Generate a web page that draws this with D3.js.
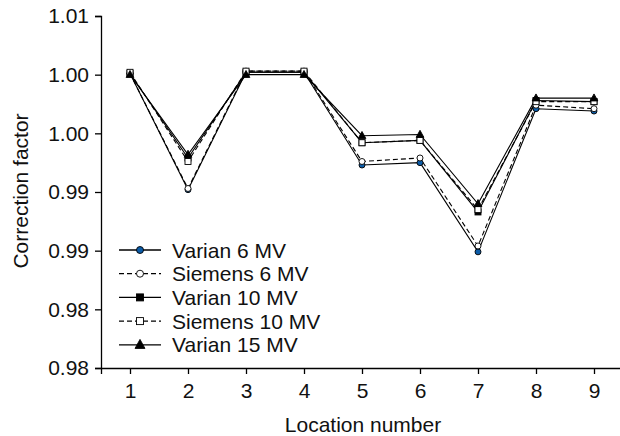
<!DOCTYPE html>
<html><head><meta charset="utf-8">
<script src="https://cdn.jsdelivr.net/npm/d3@7"></script>
<style>
html,body{margin:0;padding:0;background:#fff;}
text{font-family:"Liberation Sans",Arial,sans-serif;fill:#111;}
</style></head>
<body><svg id="c" width="620" height="436"></svg>
<script>
const locations = [1,2,3,4,5,6,7,8,9];
const varian6   = [1.0051, 0.9952, 1.0052, 1.0052, 0.9973, 0.9975, 0.9899, 1.0021, 1.0019];
const siemens6  = [1.0051, 0.9953, 1.0053, 1.0053, 0.9976, 0.9979, 0.9904, 1.0024, 1.0021];
const varian10  = [1.0051, 0.9979, 1.0052, 1.0052, 0.9992, 0.9994, 0.9933, 1.0028, 1.0027];
const siemens10 = [1.0052, 0.9976, 1.0053, 1.0053, 0.9992, 0.9994, 0.9935, 1.0027, 1.0027];
const varian15  = [1.0050, 0.9982, 1.0050, 1.0050, 0.9998, 0.9999, 0.9940, 1.0030, 1.0030];
const yTickValues = [0.980, 0.985, 0.990, 0.995, 1.000, 1.005, 1.010];
const yTickLabels = ["0.98", "0.98", "0.99", "0.99", "1.00", "1.00", "1.01"];
const seriesNames = ["Varian 6 MV", "Siemens 6 MV", "Varian 10 MV", "Siemens 10 MV", "Varian 15 MV"];

const BLUE = "#0b5ca8";
const series = [
  {name: seriesNames[0], values: varian6,   dash: null,  shape: "circle",   fill: BLUE},
  {name: seriesNames[1], values: siemens6,  dash: "5,3", shape: "circle",   fill: "#fff"},
  {name: seriesNames[2], values: varian10,  dash: null,  shape: "square",   fill: "#000"},
  {name: seriesNames[3], values: siemens10, dash: "5,3", shape: "square",   fill: "#fff"},
  {name: seriesNames[4], values: varian15,  dash: null,  shape: "triangle", fill: "#000"}
];

const svg = d3.select("#c");
const x = d3.scaleLinear().domain([0.5, 9.5]).range([101, 623]);
const y = d3.scaleLinear().domain([0.98, 1.01]).range([368, 16]);

// axes
const yAxis = d3.axisLeft(y).tickValues(yTickValues)
  .tickFormat((d,i) => yTickLabels[i]).tickSizeOuter(0).tickSize(6).tickPadding(6);
const gy = svg.append("g").attr("transform", "translate(101,0)").call(yAxis);
const xAxis = d3.axisBottom(x).tickValues(locations).tickFormat(d3.format("d"))
  .tickSizeOuter(0).tickSize(6).tickPadding(9);
const gx = svg.append("g").attr("transform", "translate(0,368)").call(xAxis);
[gx, gy].forEach(g => {
  g.select(".domain").attr("stroke", "#000").attr("stroke-width", 1.3);
  g.selectAll(".tick line").attr("stroke", "#000").attr("stroke-width", 1.3);
  g.selectAll(".tick text").attr("font-size", 21).attr("font-family", "Liberation Sans, Arial, sans-serif").attr("fill", "#111");
});

svg.append("text").attr("x", 363).attr("y", 432).attr("text-anchor", "middle")
  .attr("font-size", 21).text("Location number");
svg.append("text").attr("transform", "translate(28,191) rotate(-90)").attr("text-anchor", "middle")
  .attr("font-size", 21).text("Correction factor");

const line = d3.line().x((d,i) => x(locations[i])).y(d => y(d));

function marker(g, shape, fill, size) {
  if (shape === "circle") {
    g.append("circle").attr("r", size/2).attr("fill", fill).attr("stroke", "#000").attr("stroke-width", 0.9);
  } else if (shape === "square") {
    g.append("rect").attr("x", -size/2).attr("y", -size/2).attr("width", size).attr("height", size)
      .attr("fill", fill).attr("stroke", "#000").attr("stroke-width", 0.9);
  } else {
    const h = size;
    g.append("path").attr("d", `M0,${-h*0.6}L${h*0.55},${h*0.4}L${-h*0.55},${h*0.4}Z`)
      .attr("fill", fill).attr("stroke", "#000").attr("stroke-width", 0.9);
  }
}

const plot = svg.append("g");
series.forEach(s => {
  plot.append("path").datum(s.values).attr("d", line).attr("fill", "none")
    .attr("stroke", "#000").attr("stroke-width", 1.1)
    .attr("stroke-dasharray", s.dash);
});
series.forEach(s => {
  s.values.forEach((v, i) => {
    const g = plot.append("g").attr("transform", `translate(${x(locations[i])},${y(v)})`);
    marker(g, s.shape, s.fill, s.shape === "triangle" ? 7 : 6);
  });
});

// legend
const leg = svg.append("g");
series.forEach((s, i) => {
  const ry = 250 + i * 23.7;
  leg.append("line").attr("x1", 119).attr("x2", 161).attr("y1", ry).attr("y2", ry)
    .attr("stroke", "#000").attr("stroke-width", 1.3).attr("stroke-dasharray", s.dash);
  const g = leg.append("g").attr("transform", `translate(140,${ry})`);
  marker(g, s.shape, s.fill, s.shape === "triangle" ? 9 : 7);
  leg.append("text").attr("x", 172).attr("y", ry + 7.5).attr("font-size", 21).text(s.name);
});
</script></body></html>
